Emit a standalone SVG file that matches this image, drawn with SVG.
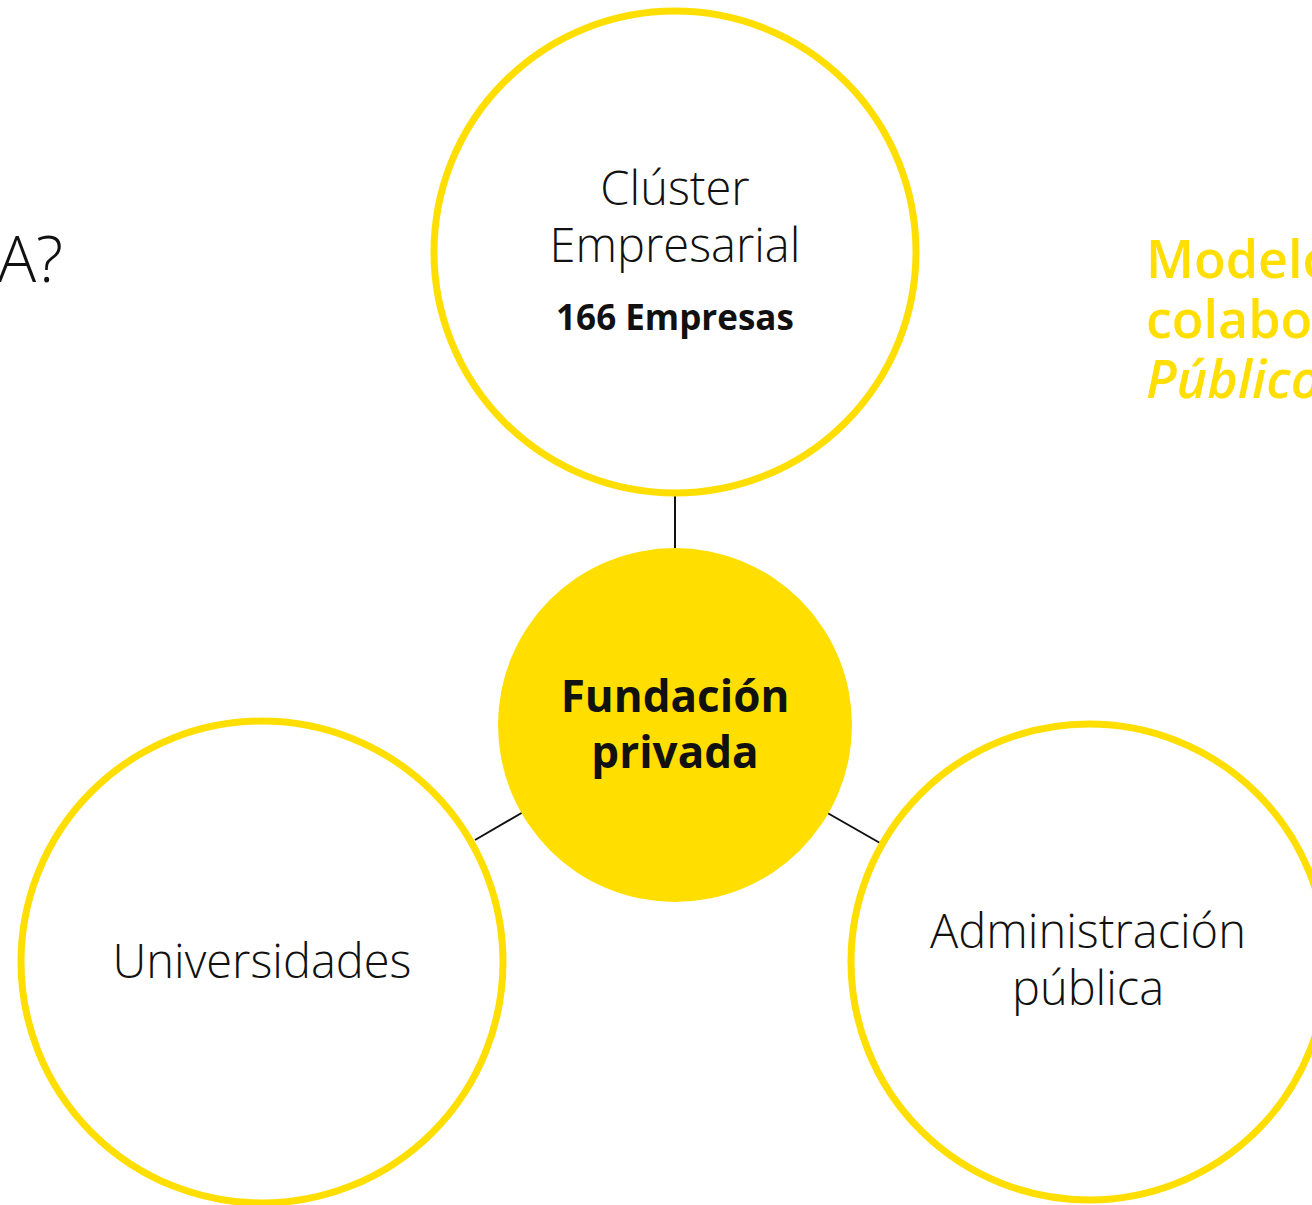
<svg xmlns="http://www.w3.org/2000/svg" width="1312" height="1205" viewBox="0 0 1312 1205">
<style>
.ring{fill:#fff;stroke:#FFDE00;stroke-width:7}
.core{fill:#FFDE00;stroke:none}
.lbl{font-family:"Open Sans","Noto Sans",sans-serif;font-weight:300;font-size:47px;fill:#111;text-anchor:middle}
.bold{font-family:"Open Sans","Noto Sans",sans-serif;font-weight:700;fill:#111;text-anchor:middle}
.side{font-family:"Open Sans","Noto Sans",sans-serif;font-weight:600;font-size:52px;fill:#FFDE00}
.conn{stroke:#111;stroke-width:2;fill:none}
</style>
<rect width="1312" height="1205" fill="#fff"/>
<text x="63" y="282" style="font-family:'Open Sans','Noto Sans',sans-serif;font-weight:300;font-size:64px;fill:#111;text-anchor:end">A?</text>
<g id="side-title">
<text class="side" x="1146" y="278">Modelo</text>
<text class="side" x="1146" y="338">colaboración</text>
<text class="side" x="1146" y="398" font-style="italic">Público</text>
</g>
<g id="connectors">
<line class="conn" x1="675" y1="496" x2="675" y2="551"/>
<line class="conn" x1="475" y1="840" x2="525" y2="811"/>
<line class="conn" x1="824" y1="811" x2="880" y2="843"/>
</g>
<g id="cluster">
<circle class="ring" cx="675" cy="252" r="241"/>
<text class="lbl" x="675" y="205">Clúster</text>
<text class="lbl" x="675" y="262">Empresarial</text>
<text class="bold" x="675" y="330" font-size="35" font-weight="600">166 Empresas</text>
</g>
<g id="fundacion">
<circle class="core" cx="675" cy="725" r="177"/>
<text class="bold" x="675" y="712" font-size="44">Fundación</text>
<text class="bold" x="675" y="768" font-size="44">privada</text>
</g>
<g id="universidades">
<circle class="ring" cx="262" cy="962" r="241"/>
<text class="lbl" x="262" y="978">Universidades</text>
</g>
<g id="administracion">
<circle class="ring" cx="1089" cy="962" r="238"/>
<text class="lbl" x="1088" y="948">Administración</text>
<text class="lbl" x="1088" y="1005">pública</text>
</g>
</svg>
